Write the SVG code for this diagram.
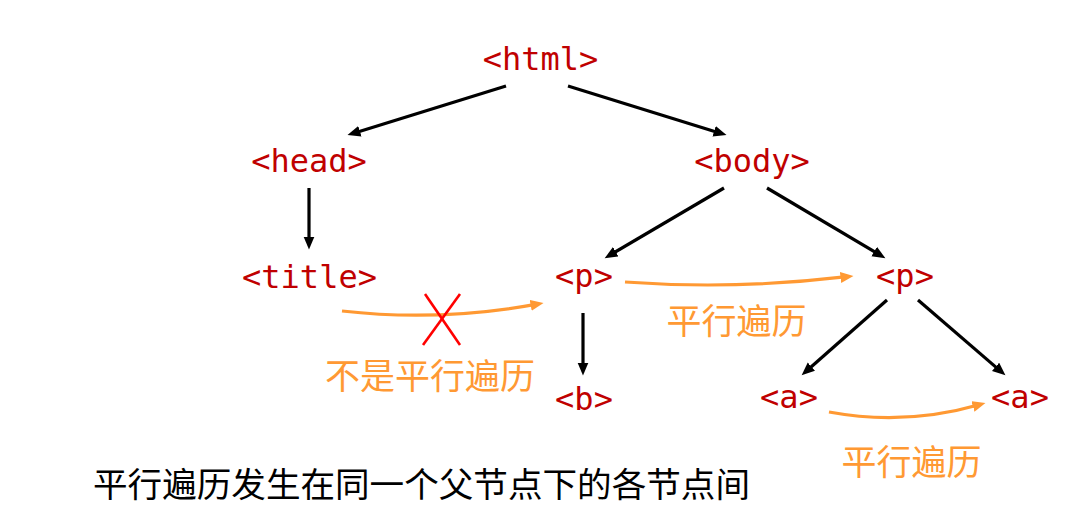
<svg xmlns="http://www.w3.org/2000/svg" width="1065" height="517" viewBox="0 0 1065 517">
<style>
.tag{font-family:"DejaVu Sans Mono","Liberation Mono",monospace;font-size:32px;fill:#C00000;text-anchor:middle}
.lbl{font-family:"Noto Sans CJK SC","Noto Sans",sans-serif;font-size:35px;fill:#FF9933;text-anchor:middle}
.cap{font-family:"Noto Sans CJK SC","Noto Sans",sans-serif;font-size:34.6px;fill:#000000}
.edge{stroke:#000000;stroke-width:3.2;fill:none;marker-end:url(#ab)}
.sib{stroke:#FF9933;stroke-width:3.2;fill:none;marker-end:url(#ao)}
.cross{stroke:#FF0000;stroke-width:2.6;fill:none}
</style>
<defs>
<marker id="ab" markerUnits="userSpaceOnUse" markerWidth="15" markerHeight="13" refX="6.5" refY="5.5" orient="auto">
<path d="M0,0 L13,5.5 L0,11 z" fill="#000000"/>
</marker>
<marker id="ao" markerUnits="userSpaceOnUse" markerWidth="15" markerHeight="13" refX="6.5" refY="5.5" orient="auto">
<path d="M0,0 L13,5.5 L0,11 z" fill="#FF9933"/>
</marker>
</defs>
<rect width="1065" height="517" fill="#FFFFFF"/>
<g id="connectors">
<line class="edge" x1="506" y1="86" x2="353.7" y2="133.2"/>
<line class="edge" x1="568" y1="86" x2="720.3" y2="133.2"/>
<line class="edge" x1="309" y1="188" x2="309" y2="243"/>
<line class="edge" x1="724" y1="188" x2="610.2" y2="255"/>
<line class="edge" x1="767" y1="188" x2="879.8" y2="254.9"/>
<line class="edge" x1="583" y1="313" x2="583" y2="369"/>
<line class="edge" x1="887" y1="300" x2="806.5" y2="371"/>
<line class="edge" x1="918" y1="300" x2="1000.5" y2="371.1"/>
<path class="sib" d="M342,311 Q440,322 537.1,304.1"/>
<path class="sib" d="M625,282 Q735,290 847,276.7"/>
<path class="sib" d="M829,412 Q905,426 979.2,404.7"/>
</g>
<g id="cross-mark">
<line class="cross" x1="425" y1="294" x2="460" y2="345"/>
<line class="cross" x1="460" y1="294" x2="423" y2="345"/>
</g>
<g id="node-html"><text class="tag" x="540.5" y="70">&lt;html&gt;</text></g>
<g id="node-head"><text class="tag" x="309" y="172">&lt;head&gt;</text></g>
<g id="node-body"><text class="tag" x="752" y="172">&lt;body&gt;</text></g>
<g id="node-title"><text class="tag" x="309.5" y="288">&lt;title&gt;</text></g>
<g id="node-p1"><text class="tag" x="584" y="287">&lt;p&gt;</text></g>
<g id="node-p2"><text class="tag" x="905" y="287">&lt;p&gt;</text></g>
<g id="node-b"><text class="tag" x="584" y="410">&lt;b&gt;</text></g>
<g id="node-a1"><text class="tag" x="789" y="408">&lt;a&gt;</text></g>
<g id="node-a2"><text class="tag" x="1020" y="408">&lt;a&gt;</text></g>
<g id="labels">
<text class="lbl" x="736.5" y="334">平行遍历</text>
<text class="lbl" x="430" y="389">不是平行遍历</text>
<text class="lbl" x="911.5" y="475">平行遍历</text>
<text class="cap" x="93" y="497">平行遍历发生在同一个父节点下的各节点间</text>
</g>
</svg>
